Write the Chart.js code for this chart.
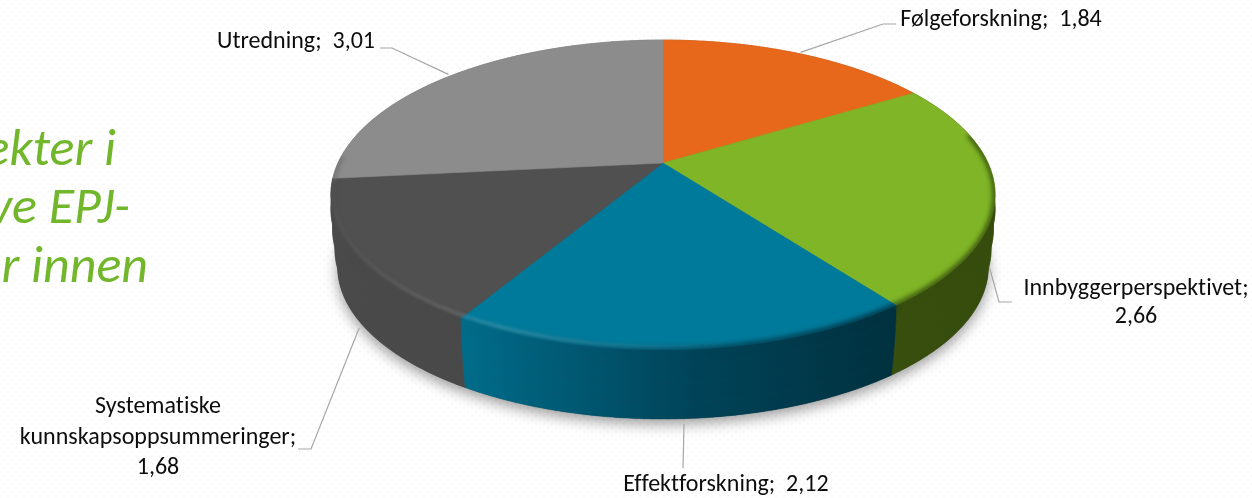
<!DOCTYPE html>
<html>
<head>
<meta charset="utf-8">
<style>
  html, body { margin: 0; padding: 0; background: #fff; overflow: hidden; }
  #wrap {
    width: 1252px; height: 498px;
    background-image: radial-gradient(#f7f7f7 1px, transparent 1.3px), radial-gradient(#f7f7f7 1px, transparent 1.3px);
    background-size: 8px 8px;
    background-position: 0 0, 4px 4px;
  }
  canvas { display: block; }
</style>
<script src="https://cdn.jsdelivr.net/npm/chart.js@4"></script>
</head>
<body>
<div id="wrap"><canvas id="chart" width="1252" height="498"></canvas></div>
<script>
// Data
const categories = ['Følgeforskning', 'Innbyggerperspektivet', 'Effektforskning', 'Systematiske kunnskapsoppsummeringer', 'Utredning'];
const values = [1.84, 2.66, 2.12, 1.68, 3.01];
const titleLines = ['ekter i', 've EPJ-', 'r innen'];

// Styles
const topColors = ['#e7681b', '#7fb526', '#007a9a', '#505050', '#8c8c8c'];
const sideStops = [
  ['#a04a12', '#a04a12'],
  ['#3f5a10', '#364c0d'],
  ['#006c8a', '#00313f'],
  ['#4a4a4a', '#444444'],
  ['#6e6e6e', '#6e6e6e'],
];
const FONT = 'Carlito, Lato, sans-serif';
const LEADER = '#a6a6a6';

// Perspective of the pie plane, u and v are on the unit circle
const view = { cx: 663, cy: 163, sx: 325, sy: 148.3, k: 0.206 };
// Rings of the wall, from the top edge down: drop in px and shrink of the radius
const wallRings = [[0, 1, 1], [14, 1, 1], [34, 0.995, 0.997], [54, 0.988, 0.992], [72, 0.98, 0.985]];
const topRing = wallRings[0];
const footRing = wallRings[wallRings.length - 1];

function project(angle, ring) {
  const u = Math.cos(angle), v = Math.sin(angle);
  const w = 1 / (1 - view.k * v);
  return [view.cx + view.sx * ring[1] * u * w, view.cy + ring[0] + view.sy * ring[2] * v * w];
}

function rimPoints(a0, a1, ring) {
  const n = Math.max(2, Math.ceil(Math.abs(a1 - a0) / 0.01));
  const pts = [];
  for (let i = 0; i <= n; i++) pts.push(project(a0 + (a1 - a0) * i / n, ring));
  return pts;
}

function tracePts(ctx, pts, move) {
  pts.forEach((p, i) => (i === 0 && move ? ctx.moveTo(p[0], p[1]) : ctx.lineTo(p[0], p[1])));
}

function wallGradient(ctx, i) {
  const g = ctx.createLinearGradient(330, 0, 995, 0);
  const s = sideStops[i];
  if (i === 2) {
    g.addColorStop(0.2, s[0]);
    g.addColorStop(0.55, '#004358');
    g.addColorStop(0.85, s[1]);
  } else {
    g.addColorStop(0, s[0]);
    g.addColorStop(1, s[1]);
  }
  return g;
}

// Label placement, index matches categories
const labelLayout = [
  { x: 1001, y: 20, elbow: [883, 24], end: [896, 24], ring: topRing, gap: 3 },
  { x: 1136, y: 289, elbow: [999, 302], end: [1012, 302], ring: footRing, gap: 3, wrap: 'value', lh: 28 },
  { x: 726, y: 485, elbow: null, end: [683, 468], ring: footRing, gap: 5 },
  { x: 158, y: 407, elbow: [311, 449], end: [298, 449], ring: footRing, gap: 5, wrap: 'words', lh: 30.5 },
  { x: 296, y: 42, elbow: [392, 48], end: [380, 48], ring: topRing, gap: 3 },
];

const pie3d = {
  id: 'pie3d',
  // the plain flat arcs are replaced, angles still come from the arc elements
  beforeDatasetDraw(chart) {
    const { ctx } = chart;
    const arcs = chart.getDatasetMeta(0).data;
    ctx.save();
    ctx.letterSpacing = '0.01px'; // no ligatures

    // Title fragment, cut by the left edge
    ctx.fillStyle = '#72b72b';
    ctx.font = 'italic 52px ' + FONT;
    ctx.textAlign = 'right';
    ctx.textBaseline = 'alphabetic';
    ctx.fillText(titleLines[0], 116, 165);
    ctx.fillText(titleLines[1], 130, 223);
    ctx.fillText(titleLines[2], 148, 282);

    // Shadow under the body
    ctx.save();
    ctx.shadowColor = 'rgba(0,0,0,0.4)';
    ctx.shadowBlur = 14;
    ctx.shadowOffsetY = 5;
    ctx.fillStyle = '#444';
    ctx.beginPath();
    tracePts(ctx, rimPoints(0, Math.PI * 2, footRing), true);
    ctx.closePath();
    ctx.fill();
    ctx.restore();

    // Side walls, far ones first
    const mid = (a) => (a.startAngle + a.endAngle) / 2;
    const order = arcs.map((a, i) => i).sort((a, b) => Math.sin(mid(arcs[a])) - Math.sin(mid(arcs[b])));
    order.forEach((i) => {
      const a = arcs[i];
      const g = wallGradient(ctx, i);
      ctx.fillStyle = g;
      ctx.strokeStyle = g;
      ctx.lineWidth = 0.5;
      wallRings.slice(1).forEach((r1, j) => {
        ctx.beginPath();
        tracePts(ctx, rimPoints(a.startAngle, a.endAngle, wallRings[j]), true);
        tracePts(ctx, rimPoints(a.endAngle, a.startAngle, r1), false);
        ctx.closePath();
        ctx.fill();
        ctx.stroke();
      });
    });

    // Top face
    arcs.forEach((a, i) => {
      ctx.fillStyle = topColors[i];
      ctx.strokeStyle = topColors[i];
      ctx.lineWidth = 0.6;
      ctx.beginPath();
      ctx.moveTo(view.cx, view.cy);
      tracePts(ctx, rimPoints(a.startAngle, a.endAngle, topRing), false);
      ctx.closePath();
      ctx.fill();
      ctx.stroke();
    });

    // Bevel along the near rim, kept inside the body
    ctx.save();
    ctx.beginPath();
    wallRings.forEach((r) => {
      tracePts(ctx, rimPoints(0, Math.PI * 2, r), true);
      ctx.closePath();
    });
    ctx.clip();
    // soft step from face to wall, in the wall's own colour
    ctx.filter = 'blur(2.5px)';
    ctx.lineWidth = 5;
    arcs.forEach((a, i) => {
      const from = Math.max(a.startAngle, -0.2), to = Math.min(a.endAngle, Math.PI + 0.05);
      if (from >= to) return;
      ctx.strokeStyle = wallGradient(ctx, i);
      ctx.beginPath();
      tracePts(ctx, rimPoints(from, to, topRing), true);
      ctx.stroke();
    });
    const shine = ctx.createLinearGradient(330, 0, 760, 0);
    shine.addColorStop(0, 'rgba(255,255,255,0.03)');
    shine.addColorStop(0.3, 'rgba(255,255,255,0.14)');
    shine.addColorStop(0.4, 'rgba(255,255,255,0.2)');
    shine.addColorStop(1, 'rgba(255,255,255,0)');
    ctx.filter = 'blur(1.5px)';
    ctx.strokeStyle = shine;
    ctx.lineWidth = 3;
    ctx.beginPath();
    tracePts(ctx, rimPoints(Math.PI / 2 - 0.2, Math.PI + 0.05, [-2, 0.995, 0.995]), true);
    ctx.stroke();
    ctx.restore();

    // Leader lines, anchored on the middle of each slice
    ctx.strokeStyle = LEADER;
    ctx.lineWidth = 1.2;
    arcs.forEach((a, i) => {
      const l = labelLayout[i];
      const tip = project(mid(a), l.ring);
      const to = l.elbow || l.end;
      const dx = to[0] - tip[0], dy = to[1] - tip[1];
      const len = Math.hypot(dx, dy);
      ctx.beginPath();
      ctx.moveTo(tip[0] + dx / len * l.gap, tip[1] + dy / len * l.gap);
      if (l.elbow) ctx.lineTo(l.elbow[0], l.elbow[1]);
      ctx.lineTo(l.end[0], l.end[1]);
      ctx.stroke();
    });

    // Labels
    ctx.fillStyle = '#0d0d0d';
    ctx.font = '24px ' + FONT;
    ctx.textAlign = 'center';
    ctx.textBaseline = 'middle';
    categories.forEach((name, i) => {
      const l = labelLayout[i];
      const val = values[i].toFixed(2).replace('.', ',');
      let lines = [name + ';  ' + val];
      if (l.wrap === 'value') lines = [name + ';', val];
      if (l.wrap === 'words') lines = [...(name + ';').split(' '), val];
      lines.forEach((t, j) => ctx.fillText(t, l.x, l.y + j * (l.lh || 0)));
    });

    ctx.restore();
    return false;
  },
};

new Chart(document.getElementById('chart'), {
  type: 'pie',
  data: {
    labels: categories,
    datasets: [{ data: values, backgroundColor: topColors, borderWidth: 0 }],
  },
  options: {
    responsive: false,
    animation: false,
    plugins: { legend: { display: false }, tooltip: { enabled: false } },
  },
  plugins: [pie3d],
});
</script>
</body>
</html>
